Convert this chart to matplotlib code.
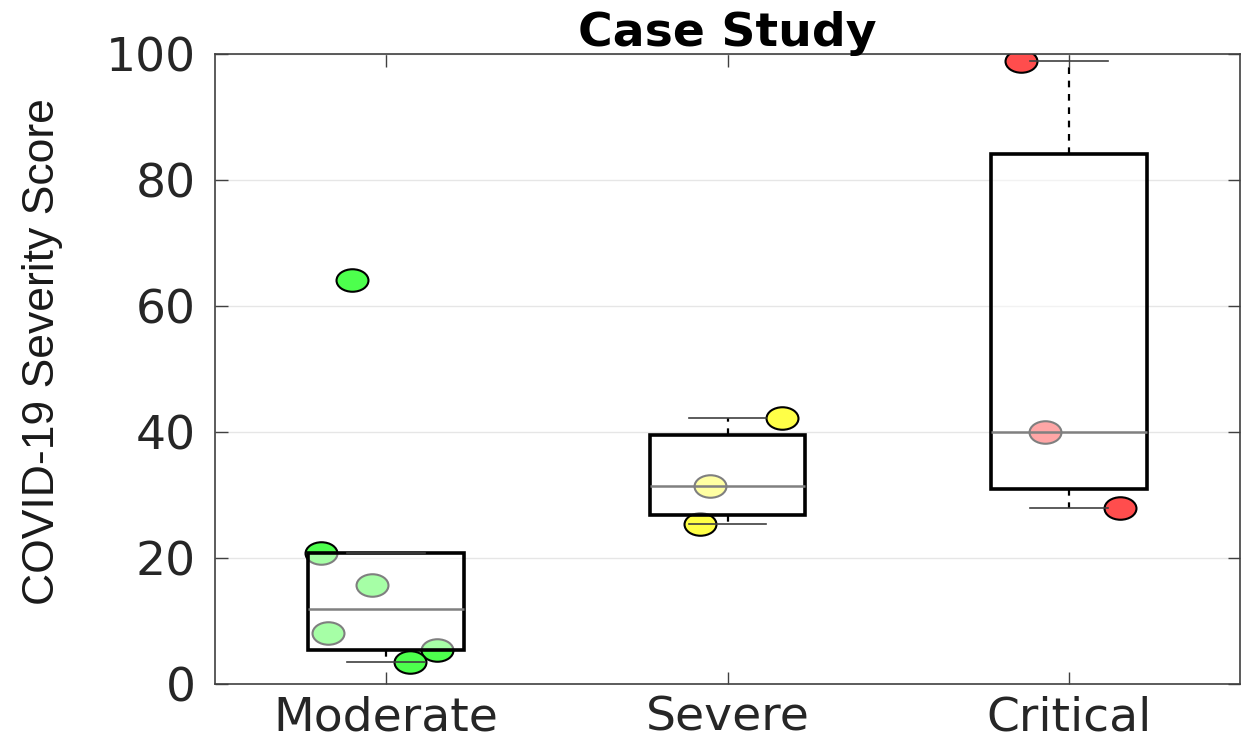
import numpy as np
import matplotlib
matplotlib.use("Agg")
import matplotlib.pyplot as plt
from matplotlib.path import Path
from matplotlib.transforms import Affine2D
from matplotlib import font_manager

categories = ["Moderate", "Severe", "Critical"]
moderate = [64.1, 20.8, 15.7, 8.1, 5.4, 3.5]
severe = [42.2, 31.4, 25.4]
critical = [98.9, 40.0, 27.9]
# horizontal offsets of the scattered points
moderate_jitter = [-0.10, -0.19, -0.04, -0.17, 0.15, 0.07]
severe_jitter = [0.16, -0.05, -0.08]
critical_jitter = [-0.14, -0.07, 0.15]
colors = ["#4dff4d", "#ffff47", "#ff4d4d"]

groups = [moderate, severe, critical]
jitters = [moderate_jitter, severe_jitter, critical_jitter]

names = {f.name for f in font_manager.fontManager.ttflist}
narrow = "Liberation Sans Narrow" if "Liberation Sans Narrow" in names else "Liberation Sans"

# wide ellipse marker, like the stretched original
ellipse = Affine2D().scale(1.42, 1.0).transform_path(Path.unit_circle())


def matlab_stats(vals, label):
    v = np.sort(np.array(vals))
    q1, med, q3 = np.percentile(v, [25, 50, 75], method="hazen")
    iqr = q3 - q1
    lo = v[v >= q1 - 1.5 * iqr].min()
    hi = v[v <= q3 + 1.5 * iqr].max()
    return dict(med=med, q1=q1, q3=q3, whislo=lo, whishi=hi, fliers=[], label=label)


fig = plt.figure(figsize=(12.47, 7.41), dpi=100)
ax = fig.add_axes([215 / 1247, 57 / 741, 1025 / 1247, 630 / 741])

for i, (vals, jit, c) in enumerate(zip(groups, jitters, colors)):
    ax.plot(np.array(jit) + i + 1, vals, linestyle="none", marker=ellipse,
            markersize=23, markerfacecolor=c, markeredgecolor="black",
            markeredgewidth=1.5, zorder=2)

stats = [matlab_stats(v, l) for v, l in zip(groups, categories)]
ax.bxp(stats, positions=[1, 2, 3], widths=0.455, patch_artist=True,
       showfliers=False, manage_ticks=False,
       boxprops=dict(facecolor=(1, 1, 1, 0.5), edgecolor="black", linewidth=2.6, zorder=3),
       medianprops=dict(color="#808080", linewidth=1.8, zorder=4),
       whiskerprops=dict(color="black", linestyle=(0, (3, 3)), linewidth=1.6, zorder=4),
       capprops=dict(color="#404040", linewidth=1.2, zorder=4),
       capwidths=0.227)

ax.set_xlim(0.5, 3.5)
ax.set_ylim(0, 100)
ax.set_xticks([1, 2, 3])
ax.set_xticklabels(categories)
ax.set_yticks([0, 20, 40, 60, 80, 100])
ax.yaxis.grid(True, color="#e6e6e6", linewidth=1.0)
ax.set_axisbelow(True)
ax.tick_params(direction="in", length=9, width=1.0, color="#404040",
               top=True, right=True, labelsize=34, labelcolor="#262626")
ax.tick_params(axis="y", pad=14)
ax.tick_params(axis="x", pad=8)
for s in ax.spines.values():
    s.set_color("#404040")
    s.set_linewidth(1.2)

ax.set_ylabel("COVID-19 Severity Score", family=[narrow, "DejaVu Sans"],
              fontsize=32, color="#1a1a1a")
ax.yaxis.set_label_coords(-0.148, 0.527)
ax.set_title("Case Study", fontsize=34, fontweight="bold", pad=6)

fig.savefig("out.png", dpi=100)
